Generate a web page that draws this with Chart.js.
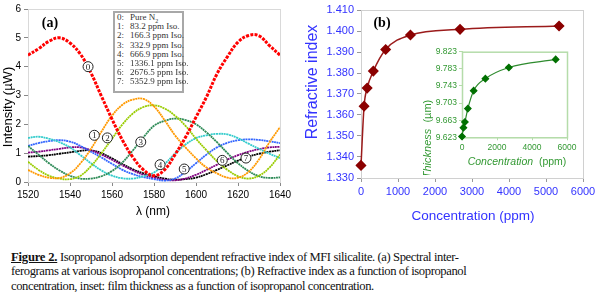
<!DOCTYPE html>
<html>
<head>
<meta charset="utf-8">
<script src="https://cdn.jsdelivr.net/npm/chart.js@4.4.1/dist/chart.umd.min.js"></script>
<style>
  body { margin: 0; width: 600px; height: 292px; background: #fff; position: relative; overflow: hidden; }
  .wrap { position: absolute; }
  #wrapA { left: 0; top: 0; width: 300px; height: 225px; }
  #wrapB { left: 300px; top: 0; width: 300px; height: 225px; }
  #wrapI { left: 410px; top: 40px; width: 175px; height: 135px; }
  .legend {
    position: absolute; left: 113px; top: 11px; width: 67px; height: 78px;
    border: 2px solid #a8a8a8; background: #fff;
    font-family: "Liberation Serif", serif; font-size: 9px; color: #333; line-height: 9.2px;
  }
  .legend div { white-space: nowrap; position: relative; height: 9.2px; }
  .legend span.n { position: absolute; left: 2px; }
  .legend span.t { position: absolute; left: 15px; }
  .caption {
    position: absolute; left: 11px; top: 250px;
    font-family: "Liberation Serif", serif; font-size: 12.6px; line-height: 14.3px; color: #111;
    white-space: nowrap; letter-spacing: -0.4px;
  }
  .caption b { text-decoration: underline; letter-spacing: -0.2px; }
</style>
</head>
<body>
<div class="wrap" id="wrapA"><canvas id="chartA" width="300" height="225"></canvas></div>
<div class="wrap" id="wrapB"><canvas id="chartB" width="300" height="225"></canvas></div>
<div class="wrap" id="wrapI"><canvas id="chartI" width="175" height="135"></canvas></div>
<div class="legend" id="legendA"></div>
<div class="caption"><b>Figure 2.</b> Isopropanol adsorption dependent refractive index of MFI silicalite. (a) Spectral inter-<br>ferograms at various isopropanol concentrations; (b) Refractive index as a function of isopropanol<br>concentration, inset: film thickness as a function of isopropanol concentration.</div>

<script>
/* ── Panel (a): interferogram data ── */
const wavelengths = [1520, 1525, 1530, 1535, 1540, 1545, 1550, 1555, 1560, 1565, 1570, 1575,
  1580, 1585, 1590, 1595, 1600, 1605, 1610, 1615, 1620, 1625, 1630, 1635, 1640];
const pureN2 = [4.4, 4.62, 4.88, 5.0, 4.82, 4.43, 3.78, 2.97, 2.18, 1.45, 0.85, 0.42,
  0.22, 0.42, 0.95, 1.55, 2.25, 2.95, 3.75, 4.35, 4.85, 5.08, 5.07, 4.73, 4.4];
const iso83 = [0.42, 0.25, 0.15, 0.14, 0.3, 0.65, 1.15, 1.75, 2.3, 2.68, 2.86, 2.88,
  2.62, 2.15, 1.62, 1.2, 0.82, 0.5, 0.3, 0.15, 0.15, 0.35, 0.78, 1.38, 1.9];
const iso166 = [0.7, 0.42, 0.22, 0.12, 0.1, 0.22, 0.55, 1.0, 1.5, 2.0, 2.38, 2.6,
  2.66, 2.55, 2.3, 1.95, 1.5, 1.1, 0.72, 0.42, 0.2, 0.12, 0.22, 0.5, 0.95];
const iso333 = [1.25, 0.95, 0.65, 0.4, 0.22, 0.12, 0.12, 0.2, 0.38, 0.68, 1.1, 1.55,
  1.95, 2.12, 2.2, 2.15, 2.0, 1.72, 1.38, 1.0, 0.65, 0.38, 0.2, 0.14, 0.16];
const iso667 = [1.53, 1.57, 1.5, 1.38, 1.2, 0.93, 0.65, 0.4, 0.22, 0.13, 0.12, 0.2,
  0.33, 0.62, 0.98, 1.3, 1.52, 1.62, 1.67, 1.65, 1.52, 1.33, 1.15, 0.98, 0.83];
const iso1336 = [1.25, 1.35, 1.42, 1.45, 1.4, 1.25, 1.05, 0.85, 0.63, 0.42, 0.27, 0.17,
  0.1, 0.05, 0.12, 0.35, 0.65, 0.95, 1.2, 1.36, 1.45, 1.48, 1.46, 1.41, 1.35];
const iso2676 = [1.02, 1.05, 1.1, 1.15, 1.2, 1.2, 1.1, 0.95, 0.77, 0.58, 0.4, 0.25,
  0.15, 0.08, 0.06, 0.12, 0.25, 0.42, 0.6, 0.78, 0.93, 1.05, 1.14, 1.2, 1.22];
const iso5353 = [0.88, 0.9, 0.93, 0.98, 1.03, 1.08, 1.1, 1.0, 0.82, 0.62, 0.44, 0.3,
  0.2, 0.12, 0.08, 0.1, 0.15, 0.27, 0.42, 0.58, 0.74, 0.88, 0.98, 1.05, 1.1];
const legendNames = ["Pure N\u2082", "83.2 ppm Iso.", "166.3 ppm Iso.", "332.9 ppm Iso.",
  "666.9 ppm Iso.", "1336.1 ppm Iso.", "2676.5 ppm Iso.", "5352.9 ppm Iso."];
// where the circled curve numbers sit (nm, µW)
const tagNm = [1548.6, 1551.6, 1557.8, 1573.7, 1582.9, 1594.4, 1612.5, 1623.8];
const tagVal = [4.0, 1.62, 1.53, 1.39, 0.6, 0.45, 0.75, 0.83];

/* ── Panel (b): refractive index and inset thickness ── */
const concentration = [0, 83.2, 166.3, 332.9, 666.9, 1336.1, 2676.5, 5352.9];
const refIndex = [1.336, 1.3642, 1.3728, 1.3809, 1.3912, 1.3981, 1.4008, 1.4024];
const thickness = [9.625, 9.6456, 9.6588, 9.69, 9.732, 9.76, 9.786, 9.805];

/* ── Styles ── */
Chart.defaults.font.family = "'Liberation Sans', Arial, sans-serif";
Chart.defaults.animation = false;
const CURVE_COLORS = ["#ff0000", "#ff9900", "#99cc00", "#2e8b57", "#33cccc", "#3366ff", "#800080", "#000000"];
const BLUE = "#3333ff";
const GREEN = "#339933";
const plain = (v) => String(v);

/* text drawn on the canvas: axis titles, panel letters */
const textPlugin = {
  id: "texts",
  afterDraw(chart, args, opts) {
    const ctx = chart.ctx;
    (opts.items || []).forEach((t) => {
      ctx.save();
      ctx.translate(t.x, t.y);
      ctx.rotate(((t.rot || 0) * Math.PI) / 180);
      ctx.textBaseline = "middle";
      ctx.fillStyle = t.color;
      const runs = t.runs || [{ text: t.text, font: t.font }];
      let w = 0;
      runs.forEach((r) => { ctx.font = r.font; w += ctx.measureText(r.text).width; });
      let x = -w / 2;
      runs.forEach((r) => {
        ctx.font = r.font;
        ctx.textAlign = "left";
        ctx.fillText(r.text, x, 0);
        x += ctx.measureText(r.text).width;
      });
      ctx.restore();
    });
  },
};

/* light frame around the plot area */
const framePlugin = {
  id: "frame",
  beforeDatasetsDraw(chart, args, opts) {
    const { ctx, chartArea: a } = chart;
    ctx.save();
    ctx.strokeStyle = opts.color || "#d9d9d9";
    ctx.lineWidth = opts.width || 1;
    ctx.strokeRect(a.left + 0.5, a.top + 0.5, a.right - a.left, a.bottom - a.top);
    ctx.restore();
  },
};

/* circled curve numbers */
const tagPlugin = {
  id: "tags",
  afterDatasetsDraw(chart) {
    const { ctx, scales } = chart;
    ctx.save();
    tagNm.forEach((nm, i) => {
      const px = scales.x.getPixelForValue(nm);
      const py = scales.y.getPixelForValue(tagVal[i]);
      ctx.beginPath();
      ctx.arc(px, py, 5, 0, Math.PI * 2);
      ctx.fillStyle = "#fff";
      ctx.fill();
      ctx.lineWidth = 1;
      ctx.strokeStyle = "#222";
      ctx.stroke();
      ctx.fillStyle = "#222";
      ctx.font = "9px 'Liberation Serif', serif";
      ctx.textAlign = "center";
      ctx.textBaseline = "middle";
      ctx.fillText(String(i), px, py + 0.5);
    });
    ctx.restore();
  },
};

/* ── Chart (a) ── */
const curves = [pureN2, iso83, iso166, iso333, iso667, iso1336, iso2676, iso5353];
new Chart(document.getElementById("chartA"), {
  type: "line",
  data: {
    datasets: curves.map((c, i) => ({
      label: legendNames[i],
      data: wavelengths.map((w, k) => ({ x: w, y: c[k] })),
      borderColor: CURVE_COLORS[i],
      borderWidth: i === 0 ? 3 : 1.8,
      borderDash: i === 0 ? [3, 1.3] : [2, 0.6],
      pointRadius: 0,
      tension: 0.4,
      fill: false,
    })),
  },
  options: {
    responsive: false,
    layout: { padding: { left: 0, right: 20, top: 9, bottom: 0 } },
    plugins: {
      legend: { display: false },
      tooltip: { enabled: false },
      frame: { color: "#d9d9d9" },
      texts: {
        items: [
          { text: "Intensity (\u00b5W)", x: 8, y: 107, rot: -90, color: "#000", font: "13px 'Liberation Sans', Arial" },
          { text: "\u03bb (nm)", x: 153, y: 212, color: "#000", font: "12px 'Liberation Sans', Arial" },
          { text: "(a)", x: 50, y: 23, color: "#000", font: "bold 14px 'Liberation Serif', serif" },
        ],
      },
    },
    scales: {
      x: {
        type: "linear", min: 1520, max: 1640,
        ticks: { stepSize: 20, color: "#000", font: { size: 10 }, padding: 3, callback: plain },
        grid: { drawOnChartArea: false, tickLength: 4, color: "#888" },
        border: { color: "#888" },
        afterFit: (s) => { s.height = 43; },
      },
      y: {
        min: 0, max: 6,
        ticks: { stepSize: 1, color: "#000", font: { size: 10 }, padding: 3, callback: plain },
        grid: { drawOnChartArea: false, tickLength: 4, color: "#888" },
        border: { color: "#888" },
        afterFit: (s) => { s.width = 28; },
      },
    },
  },
  plugins: [framePlugin, tagPlugin, textPlugin],
});

document.getElementById("legendA").innerHTML = legendNames
  .map((n, i) => `<div><span class="n">${i}:</span><span class="t">${n.replace("\u2082", "<sub style='font-size:6px'>2</sub>")}</span></div>`)
  .join("");

/* ── Chart (b) ── */
new Chart(document.getElementById("chartB"), {
  type: "line",
  data: {
    datasets: [{
      data: concentration.map((c, i) => ({ x: c, y: refIndex[i] })),
      borderColor: "#9b1b1b",
      borderWidth: 1.5,
      pointStyle: "rectRot",
      pointRadius: 4.5,
      pointBackgroundColor: "#8b0000",
      pointBorderColor: "#8b0000",
      cubicInterpolationMode: "monotone",
      clip: false,
    }],
  },
  options: {
    responsive: false,
    layout: { padding: { left: 0, right: 17, top: 10, bottom: 0 } },
    plugins: {
      legend: { display: false },
      tooltip: { enabled: false },
      frame: { color: "#d0d0d0" },
      texts: {
        items: [
          { text: "Refractive index", x: 13, y: 82, rot: -90, color: BLUE, font: "16px 'Liberation Sans', Arial" },
          { text: "Concentration (ppm)", x: 173, y: 216, color: BLUE, font: "13.5px 'Liberation Sans', Arial" },
          { text: "(b)", x: 82, y: 23, color: "#000", font: "bold 14px 'Liberation Serif', serif" },
        ],
      },
    },
    scales: {
      x: {
        type: "linear", min: 0, max: 6000,
        ticks: { stepSize: 1000, color: BLUE, font: { size: 11 }, padding: 3, callback: plain },
        grid: { drawOnChartArea: false, tickLength: 4, color: "#999" },
        border: { color: "#999" },
        afterFit: (s) => { s.height = 47; },
      },
      y: {
        min: 1.33, max: 1.41,
        ticks: { stepSize: 0.01, color: BLUE, font: { size: 11 }, padding: 3, callback: (v) => v.toFixed(3) },
        grid: { drawOnChartArea: false, tickLength: 4, color: "#999" },
        border: { color: "#999" },
        afterFit: (s) => { s.width = 61; },
      },
    },
  },
  plugins: [framePlugin, textPlugin],
});

/* ── Inset: thickness ── */
new Chart(document.getElementById("chartI"), {
  type: "line",
  data: {
    datasets: [{
      data: concentration.map((c, i) => ({ x: c, y: thickness[i] })),
      borderColor: "#2e8b2e",
      borderWidth: 1.2,
      pointStyle: "rectRot",
      pointRadius: 3.2,
      pointBackgroundColor: "#007000",
      pointBorderColor: "#007000",
      cubicInterpolationMode: "monotone",
      clip: false,
    }],
  },
  options: {
    responsive: false,
    layout: { padding: { left: 0, right: 18, top: 11.7, bottom: 0 } },
    plugins: {
      legend: { display: false },
      tooltip: { enabled: false },
      frame: { color: "#b5dcaa", width: 1.5 },
      texts: {
        items: [
          { x: 18, y: 99, rot: -90, color: GREEN, runs: [
            { text: "Thickness", font: "italic 11px 'Liberation Sans', Arial" },
            { text: "  (\u00b5m)", font: "11px 'Liberation Sans', Arial" },
          ] },
          { x: 107, y: 122, color: GREEN, runs: [
            { text: "Concentration", font: "italic 10.5px 'Liberation Sans', Arial" },
            { text: "  (ppm)", font: "10.5px 'Liberation Sans', Arial" },
          ] },
        ],
      },
    },
    scales: {
      x: {
        type: "linear", min: 0, max: 6000,
        ticks: { stepSize: 2000, color: GREEN, font: { size: 8.5 }, padding: 2, callback: plain },
        grid: { drawOnChartArea: false, tickLength: 3, color: "#b5dcaa" },
        border: { color: "#b5dcaa" },
        afterFit: (s) => { s.height = 37.7; },
      },
      y: {
        min: 9.623, max: 9.823,
        ticks: { stepSize: 0.04, color: GREEN, font: { size: 8.5 }, padding: 2, callback: (v) => v.toFixed(3) },
        grid: { drawOnChartArea: false, tickLength: 3, color: "#b5dcaa" },
        border: { color: "#b5dcaa" },
        afterFit: (s) => { s.width = 52; },
      },
    },
  },
  plugins: [framePlugin, textPlugin],
});
</script>
</body>
</html>
